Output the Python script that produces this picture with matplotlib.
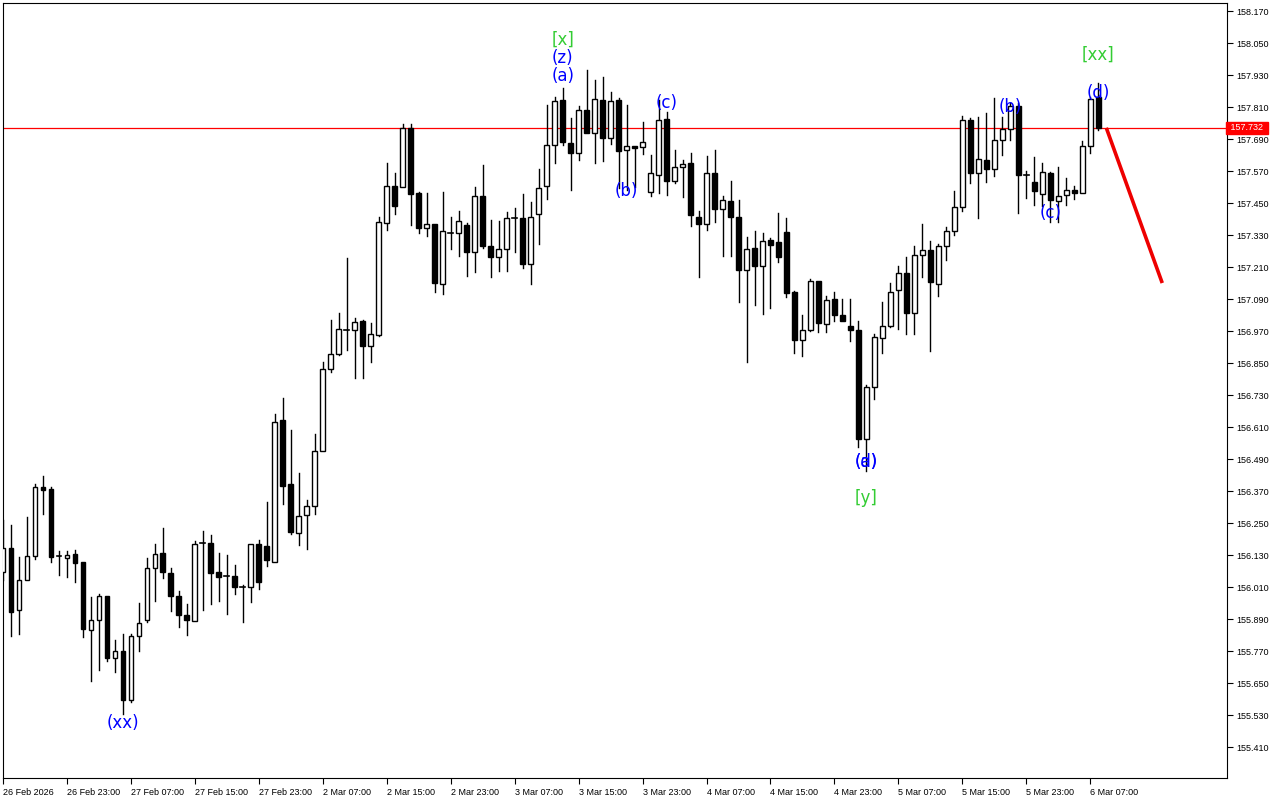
import matplotlib
matplotlib.use("Agg")
import matplotlib.pyplot as plt
from matplotlib.patches import Rectangle

# H1 candles, 26 Feb 15:00 .. 6 Mar 08:00 (weekend skipped)
opens = [156.066, 156.156, 155.924, 156.036, 156.126, 156.385, 156.377, 156.126, 156.119, 156.134,
         156.104, 155.849, 155.886, 155.976, 155.744, 155.770, 155.586, 155.826, 155.886, 156.081,
         156.137, 156.062, 155.976, 155.905, 155.882, 156.175, 156.175, 156.066, 156.051, 156.051,
         156.010, 156.010, 156.171, 156.164, 156.104, 156.636, 156.396, 156.212, 156.280, 156.314,
         156.520, 156.827, 156.884, 156.974, 156.974, 157.007, 156.914, 156.955, 157.375, 157.514,
         157.510, 157.731, 157.487, 157.356, 157.371, 157.146, 157.337, 157.337, 157.367, 157.266,
         157.476, 157.289, 157.247, 157.277, 157.394, 157.394, 157.221, 157.409, 157.514, 157.668,
         157.836, 157.675, 157.638, 157.799, 157.713, 157.836, 157.694, 157.836, 157.649, 157.664,
         157.660, 157.491, 157.555, 157.765, 157.532, 157.585, 157.600, 157.397, 157.371, 157.562,
         157.428, 157.458, 157.397, 157.199, 157.281, 157.214, 157.311, 157.304, 157.341, 157.116,
         156.936, 156.974, 157.158, 156.996, 157.090, 157.030, 156.989, 156.974, 156.565, 156.760,
         156.944, 156.989, 157.124, 157.188, 157.037, 157.255, 157.274, 157.146, 157.289, 157.345,
         157.435, 157.761, 157.562, 157.611, 157.578, 157.686, 157.727, 157.814, 157.555, 157.529,
         157.484, 157.562, 157.458, 157.480, 157.499, 157.487, 157.664, 157.848]
highs = [156.261, 156.243, 156.122, 156.272, 156.396, 156.426, 156.385, 156.145, 156.145, 156.149,
         156.104, 155.972, 155.984, 155.976, 155.811, 155.834, 155.834, 155.950, 156.119, 156.171,
         156.231, 156.081, 155.995, 155.946, 156.182, 156.220, 156.205, 156.137, 156.130, 156.092,
         156.017, 156.171, 156.186, 156.329, 156.659, 156.719, 156.599, 156.437, 156.336, 156.584,
         156.854, 157.011, 157.037, 157.244, 157.019, 157.011, 157.000, 157.397, 157.600, 157.562,
         157.746, 157.746, 157.491, 157.487, 157.371, 157.491, 157.397, 157.420, 157.375, 157.510,
         157.592, 157.386, 157.382, 157.416, 157.431, 157.484, 157.454, 157.578, 157.818, 157.848,
         157.881, 157.769, 157.814, 157.949, 157.911, 157.922, 157.866, 157.844, 157.818, 157.664,
         157.754, 157.630, 157.836, 157.791, 157.649, 157.611, 157.638, 157.420, 157.626, 157.649,
         157.476, 157.532, 157.461, 157.322, 157.345, 157.337, 157.319, 157.413, 157.394, 157.120,
         157.030, 157.165, 157.158, 157.101, 157.116, 157.090, 157.090, 157.007, 156.767, 156.959,
         157.079, 157.150, 157.214, 157.247, 157.289, 157.371, 157.307, 157.296, 157.360, 157.495,
         157.776, 157.769, 157.772, 157.787, 157.844, 157.772, 157.825, 157.825, 157.570, 157.622,
         157.600, 157.566, 157.585, 157.544, 157.514, 157.682, 157.848, 157.900]
lows = [156.036, 155.826, 155.834, 156.036, 156.115, 156.284, 156.104, 156.055, 156.047, 156.029,
        155.822, 155.657, 155.699, 155.732, 155.691, 155.534, 155.579, 155.770, 155.879, 155.957,
        156.044, 155.920, 155.860, 155.830, 155.882, 155.924, 155.946, 155.957, 155.909, 155.984,
        155.879, 155.954, 156.002, 156.089, 156.104, 156.321, 156.209, 156.167, 156.152, 156.284,
        156.520, 156.816, 156.880, 156.899, 156.794, 156.794, 156.854, 156.951, 157.349, 157.409,
        157.510, 157.367, 157.337, 157.326, 157.116, 157.109, 157.277, 157.251, 157.176, 157.191,
        157.281, 157.172, 157.195, 157.195, 157.266, 157.206, 157.146, 157.296, 157.465, 157.600,
        157.668, 157.499, 157.611, 157.713, 157.600, 157.608, 157.671, 157.506, 157.499, 157.510,
        157.634, 157.476, 157.487, 157.480, 157.525, 157.472, 157.364, 157.172, 157.349, 157.379,
        157.251, 157.251, 157.079, 156.854, 157.068, 157.034, 157.056, 157.229, 157.098, 156.888,
        156.876, 156.970, 156.966, 156.966, 157.007, 157.007, 156.932, 156.535, 156.445, 156.715,
        156.888, 156.985, 156.977, 156.959, 156.959, 157.172, 156.895, 157.101, 157.236, 157.330,
        157.420, 157.525, 157.394, 157.529, 157.551, 157.630, 157.686, 157.413, 157.469, 157.443,
        157.439, 157.379, 157.379, 157.443, 157.465, 157.487, 157.638, 157.724]
closes = [156.156, 155.916, 156.036, 156.126, 156.385, 156.374, 156.122, 156.126, 156.130, 156.100,
          155.852, 155.886, 155.976, 155.744, 155.770, 155.586, 155.826, 155.875, 156.081, 156.134,
          156.066, 155.976, 155.905, 155.886, 156.171, 156.175, 156.062, 156.047, 156.051, 156.010,
          156.010, 156.171, 156.029, 156.111, 156.629, 156.389, 156.216, 156.276, 156.314, 156.520,
          156.827, 156.884, 156.977, 156.974, 157.004, 156.914, 156.959, 157.379, 157.514, 157.439,
          157.731, 157.484, 157.356, 157.371, 157.150, 157.345, 157.337, 157.382, 157.266, 157.476,
          157.289, 157.247, 157.277, 157.394, 157.394, 157.221, 157.397, 157.506, 157.668, 157.833,
          157.679, 157.638, 157.799, 157.713, 157.840, 157.694, 157.833, 157.645, 157.664, 157.656,
          157.679, 157.562, 157.761, 157.532, 157.585, 157.596, 157.405, 157.371, 157.562, 157.428,
          157.461, 157.397, 157.199, 157.277, 157.214, 157.307, 157.293, 157.247, 157.113, 156.936,
          156.974, 157.158, 157.000, 157.086, 157.030, 157.007, 156.974, 156.565, 156.760, 156.947,
          156.989, 157.116, 157.188, 157.037, 157.255, 157.274, 157.154, 157.289, 157.345, 157.435,
          157.761, 157.562, 157.615, 157.578, 157.686, 157.727, 157.814, 157.555, 157.555, 157.495,
          157.566, 157.461, 157.476, 157.499, 157.487, 157.664, 157.840, 157.732]

time_labels = ["26 Feb 2026", "26 Feb 23:00", "27 Feb 07:00", "27 Feb 15:00", "27 Feb 23:00",
               "2 Mar 07:00", "2 Mar 15:00", "2 Mar 23:00", "3 Mar 07:00", "3 Mar 15:00",
               "3 Mar 23:00", "4 Mar 07:00", "4 Mar 15:00", "4 Mar 23:00", "5 Mar 07:00",
               "5 Mar 15:00", "5 Mar 23:00", "6 Mar 07:00"]
label_step = 8

price_ticks = [155.410, 155.530, 155.650, 155.770, 155.890, 156.010, 156.130, 156.250, 156.370,
               156.490, 156.610, 156.730, 156.850, 156.970, 157.090, 157.210, 157.330, 157.450,
               157.570, 157.690, 157.810, 157.930, 158.050, 158.170]
current_price = 157.732

# forecast arrow (bar index, price)
forecast_x = [138, 145]
forecast_y = [157.732, 157.150]

# wave marks: (text, bar, price, colour)
blue = "#0000FF"
green = "#33CC33"
wave_labels = [
    ("[x]", 70, 158.061, green), ("(z)", 70, 157.994, blue), ("(a)", 70, 157.926, blue),
    ("(c)", 83, 157.825, blue), ("(b)", 78, 157.495, blue), ("(xx)", 15, 155.500, blue),
    ("(a)", 108, 156.479, blue), ("(d)", 108, 156.479, blue), ("[y]", 108, 156.344, green),
    ("(b)", 126, 157.810, blue), ("(c)", 131, 157.413, blue),
    ("[xx]", 137, 158.005, green), ("(d)", 137, 157.862, blue),
]

fig = plt.figure(figsize=(12.8, 8), dpi=100)
ax = fig.add_axes([3 / 1280, 22 / 800, 1224 / 1280, 775 / 800])

half = 0.3
for i in range(len(opens)):
    o, h, l, c = opens[i], highs[i], lows[i], closes[i]
    top, bot = max(o, c), min(o, c)
    ax.plot([i, i], [bot, l], color="black", lw=1, zorder=2)
    ax.plot([i, i], [top, h], color="black", lw=1, zorder=2)
    if abs(c - o) < 0.004:
        ax.plot([i - half, i + half], [c, c], color="black", lw=1.2, zorder=3)
    else:
        face = "white" if c > o else "black"
        ax.add_patch(Rectangle((i - half, bot), 2 * half, top - bot, facecolor=face,
                               edgecolor="black", lw=1, zorder=3))

ax.axhline(current_price, color="#FF0000", lw=0.9, zorder=1)
ax.plot(forecast_x, forecast_y, color="#EE0000", lw=2.6, solid_capstyle="butt", zorder=4)

for txt, bx, py, col in wave_labels:
    ax.text(bx, py, txt, color=col, fontsize=12, ha="center", va="center", zorder=5)

ax.set_xlim(0.09, 153.1)
ax.set_ylim(155.294, 158.200)

tick_font = "Liberation Sans"

ax.yaxis.tick_right()
ax.set_yticks(price_ticks)
ax.set_yticklabels([f"{p:.3f}" for p in price_ticks], family=tick_font)
ax.tick_params(axis="y", direction="out", length=4, labelsize=6.5, pad=3)

ax.set_xticks([k * label_step for k in range(len(time_labels))])
ax.set_xticklabels(time_labels, family=tick_font)
for lab in ax.get_xticklabels():
    lab.set_horizontalalignment("left")
ax.tick_params(axis="x", direction="out", length=4, labelsize=6.5, pad=3)

for s in ax.spines.values():
    s.set_color("black")
    s.set_linewidth(0.8)

# current price tag on the right axis
ax.text(1.001, current_price, f" {current_price:.3f} ", transform=ax.get_yaxis_transform(),
        color="white", fontsize=6.5, family=tick_font, ha="left", va="center",
        bbox=dict(boxstyle="square,pad=0.2", facecolor="#FF0000", edgecolor="#FF0000"),
        zorder=6, clip_on=False)

fig.savefig("out.png", dpi=100)
